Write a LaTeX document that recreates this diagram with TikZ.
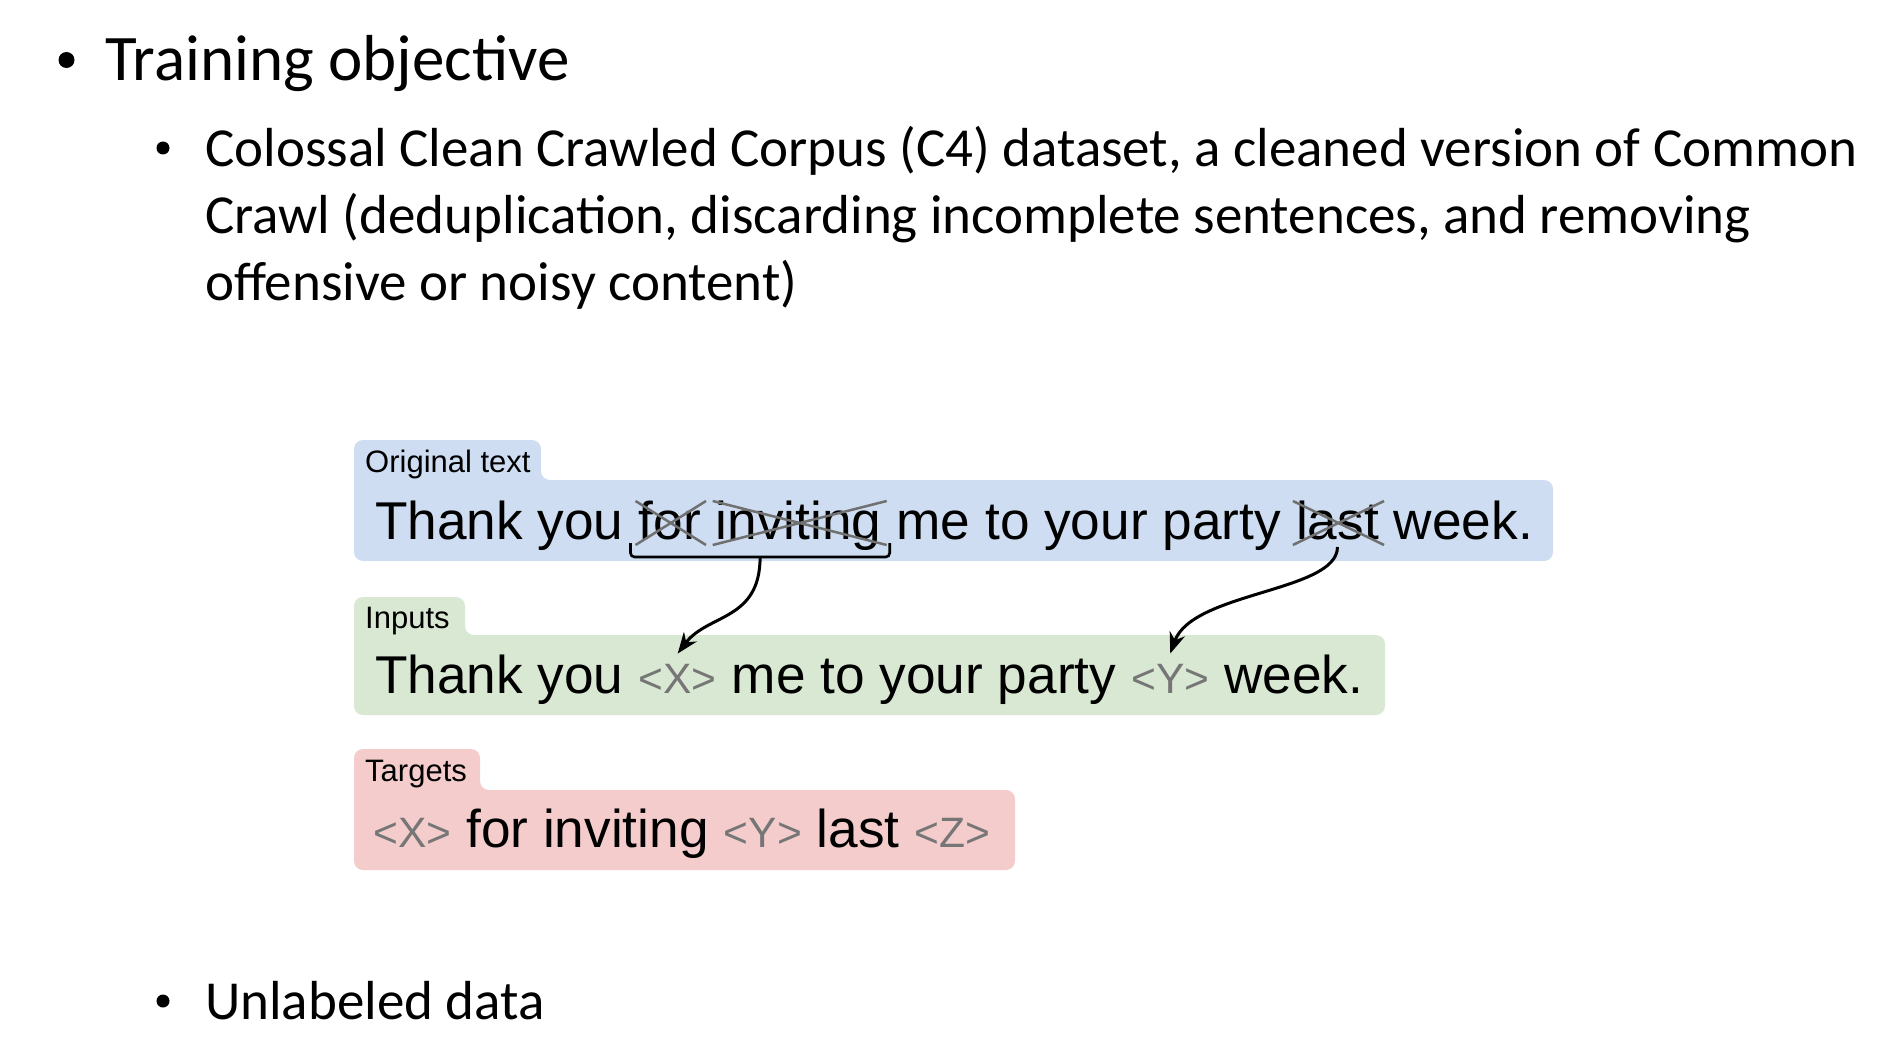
\documentclass[tikz,border=0pt]{standalone}
\usepackage{fontspec}
\setmainfont{Carlito}
\newfontfamily\hv{Liberation Sans}
\usetikzlibrary{calc,arrows.meta}
\definecolor{boxblue}{RGB}{206,221,241}
\definecolor{boxgreen}{RGB}{217,232,211}
\definecolor{boxred}{RGB}{244,204,204}
\definecolor{phgray}{RGB}{118,118,118}
\definecolor{xgray}{RGB}{112,112,112}
\begin{document}
\begin{tikzpicture}[x=1pt,y=-1pt,
  slideA/.style={anchor=base west, inner sep=0pt, font=\fontsize{65}{78}\selectfont},
  slideB/.style={anchor=base west, inner sep=0pt, font=\fontsize{55}{66}\selectfont},
  word/.style={anchor=base west, inner sep=0pt, font=\hv\fontsize{53.2}{60}\selectfont},
  ph/.style={anchor=base west, inner sep=0pt, text=phgray, font=\hv\fontsize{42.5}{50}\selectfont},
  lab/.style={anchor=base west, inner sep=0pt, font=\hv\fontsize{31}{36}\selectfont},
  cross/.style={draw=xgray, line width=2.5pt},
  conn/.style={line width=3pt, -{Stealth[length=21pt,width=16pt]}},
  tabbox/.style={rounded corners=9pt},
]
\def\wsp{14.7}
\useasboundingbox (0,0) rectangle (1890,1054);

% slide bullets
\fill (66.5,60) circle (8);
\node[slideA] (t1) at (105,81) {Training objective};
\fill (163,148) circle (6.5);
\node[slideB] (c1) at (205,167) {Colossal Clean Crawled Corpus (C4) dataset, a cleaned version of Common};
\node[slideB] (c2) at (205,233) {Crawl (deduplication, discarding incomplete sentences, and removing};
\node[slideB] (c3) at (205,300) {offensive or noisy content)};
\fill (163,1001) circle (6.5);
\node[slideB] (u1) at (205,1019) {Unlabeled data};

% boxes
\fill[boxblue, tabbox] (354,561) -- (354,440) -- (541,440) -- (541,480) -- (1553,480) -- (1553,561) -- cycle;
\fill[boxgreen, tabbox] (354,715) -- (354,597) -- (465,597) -- (465,635) -- (1385,635) -- (1385,715) -- cycle;
\fill[boxred, tabbox] (354,870) -- (354,749) -- (480,749) -- (480,790) -- (1015,790) -- (1015,870) -- cycle;

% labels
\node[lab] (lo) at (365,472) {Original text};
\node[lab] (li) at (365,628) {Inputs};
\node[lab] (lt) at (365,781) {Targets};

% original sentence
\node[word] (w1) at (375,539) {Thank you};
\node[word] (w2) at ($(w1.base east)+(\wsp,0)$) {for};
\node[word] (w3) at ($(w2.base east)+(\wsp,0)$) {inviting};
\node[word] (w4) at ($(w3.base east)+(\wsp,0)$) {me to your party};
\node[word] (w5) at ($(w4.base east)+(\wsp,0)$) {last};
\node[word] (w6) at ($(w5.base east)+(\wsp,0)$) {week.};

% inputs sentence
\node[word] (i1) at (375,693) {Thank you};
\node[ph]   (i2) at ($(i1.base east)+(\wsp,0)$) {<X>};
\node[word] (i3) at ($(i2.base east)+(\wsp,0)$) {me to your party};
\node[ph]   (i4) at ($(i3.base east)+(\wsp,0)$) {<Y>};
\node[word] (i5) at ($(i4.base east)+(\wsp,0)$) {week.};

% targets sentence
\node[ph]   (g1) at (373,847) {<X>};
\node[word] (g2) at ($(g1.base east)+(\wsp,0)$) {for inviting};
\node[ph]   (g3) at ($(g2.base east)+(\wsp,0)$) {<Y>};
\node[word] (g4) at ($(g3.base east)+(\wsp,0)$) {last};
\node[ph]   (g5) at ($(g4.base east)+(\wsp,0)$) {<Z>};

% strike-outs
\foreach \w in {w2,w3,w5}{
  \draw[cross] ($(\w.base west)+(-3,-38)$) -- ($(\w.base east)+(5,6)$);
  \draw[cross] ($(\w.base west)+(-3,6)$) -- ($(\w.base east)+(5,-38)$);
}

% bracket under "for inviting"
\coordinate (ba) at ($(w2.base west)+(-8,4)$);
\coordinate (bd) at ($(w3.base east)+(8,4)$);
\coordinate (bb) at ($(ba)+(0,14)$);
\coordinate (bc) at ($(bd)+(0,14)$);
\draw[line width=2.6pt, rounded corners=4pt] (ba) -- (bb) -- (bc) -- (bd);
\coordinate (brk) at ($(bb)!0.5!(bc)$);
\coordinate (lst) at ($(w5.base)+(0,8)$);

% arrows
\coordinate (tip1) at ($(i2.north)+(0,-10)$);
\coordinate (tip2) at ($(i4.north)+(0,-10)$);
\draw[conn] (brk) .. controls ($(brk)+(0,64)$) and ($(tip1)+(30,-40)$) .. (tip1);
\draw[conn] (lst) .. controls ($(lst)+(0,45)$) and ($(tip2)+(22,-62)$) .. (tip2);
\end{tikzpicture}
\end{document}
